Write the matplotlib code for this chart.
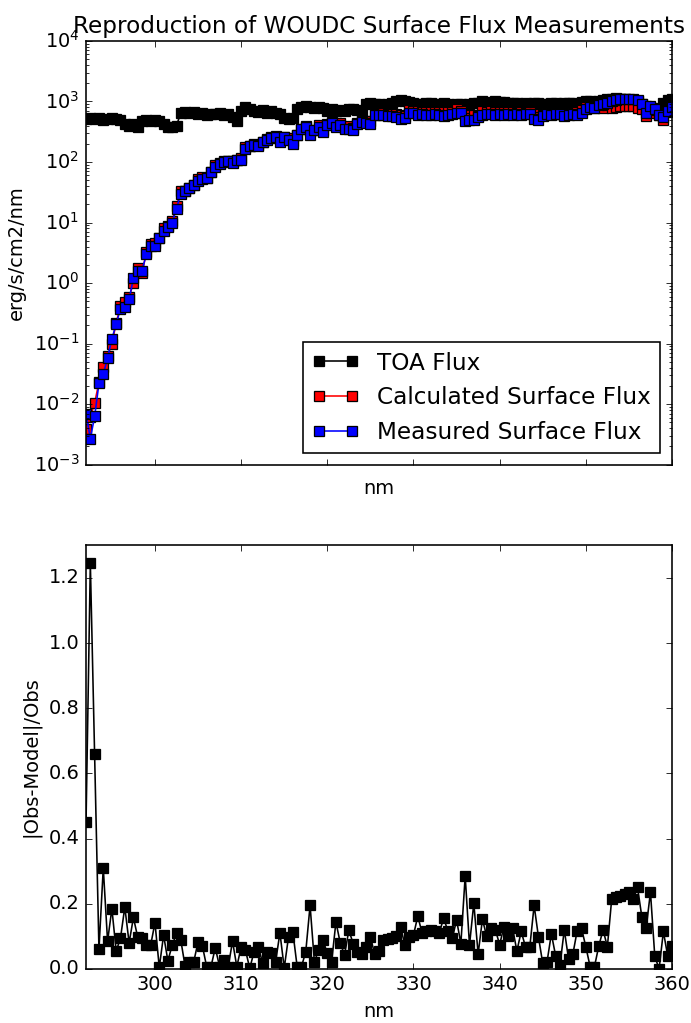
import matplotlib
matplotlib.use("Agg")
import matplotlib.pyplot as plt
import numpy as np

# wavelength grid (nm), 0.5 nm steps
wl_start, wl_stop, wl_step = 292.0, 360.0, 0.5
nm = np.arange(wl_start, wl_stop + wl_step / 2, wl_step)

toa = [520, 530, 510, 540, 500, 520, 530, 510, 490, 430,
       400, 420, 376, 480, 500, 470, 490, 480, 420, 380,
       376, 400, 650, 680, 650, 660, 620, 640, 600, 620,
       630, 650, 600, 620, 560, 480, 700, 820, 760, 700,
       680, 720, 650, 690, 640, 620, 540, 520, 530, 760,
       820, 850, 800, 780, 820, 780, 700, 740, 690, 720,
       700, 760, 740, 720, 680, 900, 950, 920, 900, 880,
       920, 950, 1000, 1050, 1020, 980, 950, 920, 900, 940,
       930, 900, 920, 950, 900, 880, 920, 900, 870, 900,
       930, 960, 1000, 980, 950, 1000, 970, 990, 960, 950,
       940, 920, 930, 900, 950, 930, 900, 920, 950, 940,
       900, 930, 960, 950, 920, 980, 1000, 1020, 980, 1000,
       1050, 1080, 1100, 1120, 1100, 1080, 1060, 1050, 1020, 900,
       850, 820, 720, 780, 950, 1050, 1100]

calc = [3.9e-3, 6.1e-3, 1.05e-2, 0.023, 0.041, 0.063, 0.098, 0.22, 0.42, 0.48,
        0.58, 1.01, 1.76, 1.45, 3.22, 4.4, 4.68, 5.63, 8.06, 8.71,
        10.7, 18.9, 32.6, 33.3, 37.8, 41.9, 52.0, 56.8, 54.4, 69.5,
        88.4, 94.7, 102.7, 102.7, 105.2, 107.7, 114.3, 175.6, 182.4, 199.0,
        194.4, 217.6, 240.1, 256.8, 264.7, 237.8, 259.8, 250.6, 219.5, 277.9,
        357.5, 400.1, 329.8, 340.3, 402.0, 342.7, 429.7, 454.8, 434.7, 442.8,
        370.3, 397.2, 359.0, 442.3, 481.2, 475.3, 472.6, 616.6, 622.5, 641.9,
        627.9, 618.7, 616.0, 587.6, 568.7, 714.4, 706.6, 697.2, 677.1, 669.0,
        660.8, 680.2, 666.0, 671.1, 669.0, 678.3, 747.5, 689.9, 604.0, 525.8,
        601.0, 585.8, 691.2, 682.0, 686.3, 672.0, 677.3, 678.0, 671.0, 663.8,
        654.1, 669.0, 651.5, 672.8, 609.5, 549.5, 589.9, 633.6, 653.7, 634.4,
        627.4, 649.6, 618.0, 648.5, 670.8, 720.0, 811.7, 805.6, 785.5, 800.0,
        792.0, 885.0, 786.0, 819.0, 837.0, 847.0, 841.5, 848.0, 787.5, 756.0,
        569.0, 649.4, 720.0, 600.0, 495.6, 672.0, 762.6]

meas = [7e-3, 2.7e-3, 6.3e-3, 0.022, 0.031, 0.058, 0.12, 0.21, 0.38, 0.40,
        0.54, 1.2, 1.6, 1.6, 3.0, 4.1, 4.1, 5.6, 7.3, 8.5,
        10, 17, 30, 33, 37, 41, 48, 53, 54, 69,
        83, 94, 100, 102, 97, 107, 107, 166, 182, 189,
        182, 214, 228, 245, 259, 214, 259, 228, 197, 276,
        355, 380, 276, 333, 380, 315, 410, 445, 380, 410,
        355, 355, 333, 420, 460, 445, 430, 590, 590, 590,
        575, 565, 560, 520, 530, 650, 640, 600, 610, 600,
        590, 610, 600, 580, 600, 620, 650, 640, 470, 490,
        500, 560, 600, 620, 610, 600, 630, 600, 610, 590,
        620, 600, 610, 630, 510, 500, 580, 620, 590, 610,
        620, 580, 600, 620, 600, 640, 760, 800, 780, 860,
        900, 950, 1000, 1050, 1080, 1100, 1100, 1080, 1050, 900,
        650, 850, 750, 600, 560, 700, 820]

rel_diff = [0.45, 1.245, 0.66, 0.06, 0.31, 0.085, 0.185, 0.055, 0.095, 0.19,
            0.08, 0.158, 0.097, 0.094, 0.073, 0.073, 0.142, 0.005, 0.104, 0.025,
            0.073, 0.109, 0.088, 0.008, 0.022, 0.022, 0.083, 0.071, 0.007, 0.007,
            0.065, 0.007, 0.027, 0.007, 0.085, 0.007, 0.068, 0.058, 0.002, 0.053,
            0.068, 0.017, 0.053, 0.048, 0.022, 0.111, 0.003, 0.099, 0.114, 0.007,
            0.007, 0.053, 0.195, 0.022, 0.058, 0.088, 0.048, 0.022, 0.144, 0.08,
            0.043, 0.119, 0.078, 0.053, 0.046, 0.068, 0.099, 0.045, 0.055, 0.088,
            0.092, 0.095, 0.10, 0.13, 0.073, 0.099, 0.104, 0.162, 0.11, 0.115,
            0.12, 0.115, 0.11, 0.157, 0.115, 0.094, 0.15, 0.078, 0.285, 0.073,
            0.202, 0.046, 0.152, 0.10, 0.125, 0.12, 0.075, 0.13, 0.10, 0.125,
            0.055, 0.115, 0.068, 0.068, 0.195, 0.099, 0.017, 0.022, 0.108, 0.04,
            0.012, 0.12, 0.03, 0.046, 0.118, 0.125, 0.068, 0.007, 0.007, 0.07,
            0.12, 0.068, 0.214, 0.22, 0.225, 0.23, 0.235, 0.215, 0.25, 0.16,
            0.125, 0.236, 0.04, 0.0, 0.115, 0.04, 0.07]

plt.style.use('classic')
plt.rcParams['figure.facecolor'] = 'white'
plt.rcParams['savefig.facecolor'] = 'white'

dpi = 116
fig, (ax1, ax2) = plt.subplots(2, 1, figsize=(691 / dpi, 1023 / dpi), dpi=dpi)
fig.subplots_adjust(left=0.1245, right=0.9725, top=0.960, bottom=0.0528, hspace=0.19)

ax1.plot(nm, toa, 'ks-', mec='k', mew=0.8, label='TOA Flux')
ax1.plot(nm, calc, 'rs-', mec='k', mew=0.8, label='Calculated Surface Flux')
ax1.plot(nm, meas, 'bs-', mec='k', mew=0.8, label='Measured Surface Flux')
ax1.set_yscale('log')
ax1.set_ylim(1e-3, 1e4)
ax1.set_xlim(wl_start, wl_stop)
ax1.set_xticks([300, 310, 320, 330, 340, 350, 360])
ax1.set_xticklabels([])
ax1.set_xlabel('nm')
ax1.set_ylabel('erg/s/cm2/nm')
ax1.set_title('Reproduction of WOUDC Surface Flux Measurements')
ax1.legend(loc='lower right')

ax2.plot(nm, rel_diff, 'ks-', mec='k', mew=0.8)
ax2.set_xlim(wl_start, wl_stop)
ax2.set_ylim(0, 1.3)
ax2.set_yticks([0.0, 0.2, 0.4, 0.6, 0.8, 1.0, 1.2])
ax2.set_xticks([300, 310, 320, 330, 340, 350, 360])
ax2.set_xlabel('nm')
ax2.set_ylabel('|Obs-Model|/Obs')

fig.savefig('out.png', dpi=dpi)
